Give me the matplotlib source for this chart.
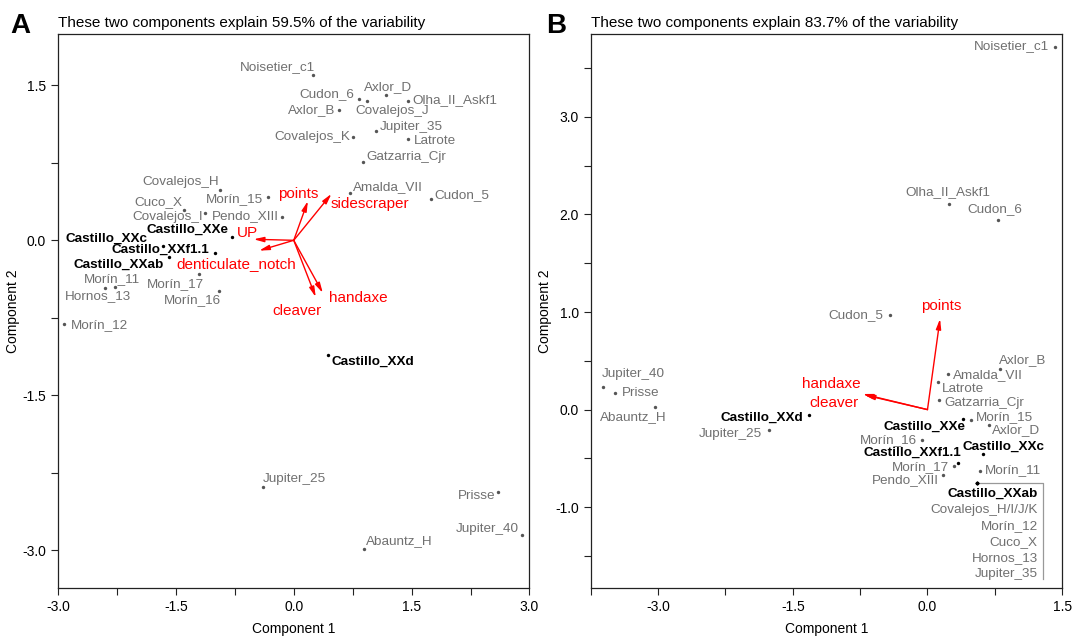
import numpy as np
import matplotlib.pyplot as plt
from matplotlib.ticker import MultipleLocator, FormatStrFormatter
from matplotlib.transforms import IdentityTransform

plt.rcParams["font.family"] = ["Liberation Sans", "DejaVu Sans"]

# ---- panel A: PCA scores and loadings ----
pct_a = 59.5
sites_a = ["Noisetier_c1", "Cudon_6", "Covalejos_J", "Axlor_D", "Olha_II_Askf1",
           "Axlor_B", "Jupiter_35", "Covalejos_K", "Latrote", "Gatzarria_Cjr",
           "Amalda_VII", "Cudon_5", "Covalejos_H", "Morín_15", "Cuco_X",
           "Covalejos_I", "Pendo_XIII", "Castillo_XXe", "Castillo_XXc",
           "Castillo_XXf1.1", "Castillo_XXab", "Morín_11", "Hornos_13",
           "Morín_17", "Morín_16", "Morín_12", "Castillo_XXd", "Jupiter_25",
           "Prisse", "Jupiter_40", "Abauntz_H"]
pc1_a = [0.25, 0.83, 0.93, 1.17, 1.45, 0.58, 1.05, 0.76, 1.46, 0.88,
         0.71, 1.75, -0.94, -0.33, -1.40, -1.13, -0.15, -0.78, -1.66,
         -1.00, -1.59, -2.27, -2.40, -1.21, -0.95, -2.92, 0.43, -0.39,
         2.60, 2.90, 0.89]
pc2_a = [1.60, 1.37, 1.35, 1.41, 1.35, 1.26, 1.06, 1.00, 0.98, 0.76,
         0.46, 0.40, 0.49, 0.42, 0.29, 0.26, 0.23, 0.03, -0.06,
         -0.12, -0.16, -0.45, -0.46, -0.33, -0.49, -0.81, -1.11, -2.39,
         -2.44, -2.85, -2.99]
vars_a = ["points", "sidescraper", "UP", "denticulate_notch", "cleaver", "handaxe"]
load1_a = [0.18, 0.48, -0.51, -0.44, 0.28, 0.37]
load2_a = [0.38, 0.45, 0.01, -0.10, -0.55, -0.51]

# ---- panel B ----
pct_b = 83.7
sites_b = ["Noisetier_c1", "Olha_II_Askf1", "Cudon_6", "Cudon_5", "Axlor_B",
           "Amalda_VII", "Latrote", "Gatzarria_Cjr", "Morín_15", "Castillo_XXe",
           "Axlor_D", "Morín_16", "Castillo_XXc", "Castillo_XXf1.1", "Morín_17",
           "Morín_11", "Pendo_XIII", "Castillo_XXd", "Jupiter_25", "Jupiter_40",
           "Prisse", "Abauntz_H"]
pc1_b = [1.42, 0.24, 0.78, -0.42, 0.81, 0.23, 0.12, 0.13, 0.48, 0.39,
         0.68, -0.06, 0.62, 0.34, 0.29, 0.58, 0.17, -1.32, -1.77, -3.61,
         -3.48, -3.03]
pc2_b = [3.72, 2.11, 1.94, 0.97, 0.42, 0.36, 0.28, 0.10, -0.11, -0.10,
         -0.16, -0.31, -0.45, -0.55, -0.58, -0.63, -0.67, -0.06, -0.21, 0.23,
         0.17, 0.03]
# sites sharing one position in panel B
group_b = ["Castillo_XXab", "Covalejos_H/I/J/K", "Morín_12", "Cuco_X",
           "Hornos_13", "Jupiter_35"]
group_pc1_b = 0.55
group_pc2_b = -0.75
vars_b = ["points", "handaxe", "cleaver"]
load1_b = [0.14, -0.72, -0.70]
load2_b = [0.93, 0.16, 0.15]

# label placement: (ha, dx, dy) in pixels from the point
place_a = {
    "Noisetier_c1": ("right", 2, 8), "Cudon_6": ("right", -5, 5),
    "Covalejos_J": ("left", -11, -10), "Axlor_D": ("center", 2, 8),
    "Olha_II_Askf1": ("left", 5, 1), "Axlor_B": ("right", -4, 0),
    "Jupiter_35": ("left", 4, 4), "Covalejos_K": ("right", -3, 0),
    "Latrote": ("left", 5, -2), "Gatzarria_Cjr": ("left", 3, 5),
    "Amalda_VII": ("left", 3, 6), "Cudon_5": ("left", 3, 4),
    "Covalejos_H": ("right", -1, 8), "Morín_15": ("right", -5, -2),
    "Cuco_X": ("right", -1, 8), "Covalejos_I": ("right", -2, -4),
    "Pendo_XIII": ("right", -3, 0), "Castillo_XXe": ("right", -4, 7),
    "Castillo_XXc": ("right", -16, 8), "Castillo_XXf1.1": ("right", -6, 3),
    "Castillo_XXab": ("right", -5, -8), "Morín_11": ("center", -3, 8),
    "Hornos_13": ("center", -7, -8), "Morín_17": ("right", 5, -10),
    "Morín_16": ("right", 2, -9), "Morín_12": ("left", 7, -1),
    "Castillo_XXd": ("left", 4, -7), "Jupiter_25": ("left", 0, 8),
    "Prisse": ("right", -3, -4), "Jupiter_40": ("right", -3, 6),
    "Abauntz_H": ("left", 2, 8),
}
place_b = {
    "Noisetier_c1": ("right", -6, 0), "Olha_II_Askf1": ("center", -1, 12),
    "Cudon_6": ("center", -3, 11), "Cudon_5": ("right", -6, 0),
    "Axlor_B": ("left", -1, 9), "Amalda_VII": ("left", 5, -1),
    "Latrote": ("left", 4, -7), "Gatzarria_Cjr": ("left", 5, -3),
    "Morín_15": ("left", 5, 3), "Castillo_XXe": ("right", 3, -7),
    "Axlor_D": ("left", 3, -5), "Morín_16": ("right", -5, 0),
    "Castillo_XXc": ("left", -21, 7), "Castillo_XXf1.1": ("right", 3, 10),
    "Morín_17": ("right", -5, -1), "Morín_11": ("left", 5, 1),
    "Pendo_XIII": ("right", -4, -5), "Castillo_XXd": ("right", -6, -2),
    "Jupiter_25": ("right", -6, -4), "Jupiter_40": ("left", -1, 13),
    "Prisse": ("left", 7, 0), "Abauntz_H": ("center", -22, -10),
}
arrow_lab_a = {"points": (-10, 7), "sidescraper": (38, -10), "UP": (-6, 6),
               "denticulate_notch": (-23, -13), "cleaver": (-19, -14),
               "handaxe": (35, -5)}
arrow_lab_b = {"points": (1, 13), "handaxe": (-32, 10), "cleaver": (-31, -8)}

GREY = "#707070"
LAB_FS = 9.7


def style_axes(ax, xlim, ylim, xmaj, xmin, ymaj, ymin):
    ax.set_xlim(*xlim)
    ax.set_ylim(*ylim)
    ax.xaxis.set_major_locator(MultipleLocator(xmaj))
    ax.xaxis.set_minor_locator(MultipleLocator(xmin))
    ax.yaxis.set_major_locator(MultipleLocator(ymaj))
    ax.yaxis.set_minor_locator(MultipleLocator(ymin))
    ax.xaxis.set_major_formatter(FormatStrFormatter("%.1f"))
    ax.yaxis.set_major_formatter(FormatStrFormatter("%.1f"))
    ax.tick_params(which="both", direction="out", length=5, width=0.8,
                   labelsize=10, color="#222222")
    for s in ax.spines.values():
        s.set_linewidth(0.9)
        s.set_color("#222222")
    ax.set_xlabel("Component 1", fontsize=10, labelpad=6)
    ax.set_ylabel("Component 2", fontsize=10, labelpad=2)


def draw_sites(ax, sites, pc1, pc2, place):
    for name, x, y in zip(sites, pc1, pc2):
        bold = name.startswith("Castillo")
        ax.scatter(x, y, s=6, color="black" if bold else "#555555",
                   linewidths=0, zorder=3)
        ha, dx, dy = place[name]
        ax.annotate(name, (x, y), xytext=(dx, dy), textcoords="offset pixels",
                    ha=ha, va="center", fontsize=LAB_FS,
                    color="black" if bold else GREY,
                    fontweight="bold" if bold else "normal")


def draw_loadings(ax, names, l1, l2, labpos):
    for name, x, y in zip(names, l1, l2):
        ax.annotate("", xy=(x, y), xytext=(0, 0),
                    arrowprops=dict(arrowstyle="-|>,head_length=0.6,head_width=0.15",
                                    color="red", lw=1.0, shrinkA=0, shrinkB=0,
                                    mutation_scale=10))
        dx, dy = labpos[name]
        ax.annotate(name, (x, y), xytext=(dx, dy), textcoords="offset pixels",
                    ha="center", va="center", fontsize=11, color="red")


fig = plt.figure(figsize=(10.74, 6.38), dpi=100)
ax_a = fig.add_axes([0.054, 0.078, 0.439, 0.869])
ax_b = fig.add_axes([0.550, 0.078, 0.439, 0.869])

style_axes(ax_a, (-3.0, 3.0), (-3.37, 2.0), 1.5, 0.75, 1.5, 0.75)
style_axes(ax_b, (-3.75, 1.5), (-1.83, 3.85), 1.5, 0.75, 1.0, 0.5)

draw_sites(ax_a, sites_a, pc1_a, pc2_a, place_a)
draw_loadings(ax_a, vars_a, load1_a, load2_a, arrow_lab_a)

draw_sites(ax_b, sites_b, pc1_b, pc2_b, place_b)
draw_loadings(ax_b, vars_b, load1_b, load2_b, arrow_lab_b)

# overlapping group in panel B: one dot, stacked labels, bracket
ax_b.scatter([group_pc1_b] * len(group_b), [group_pc2_b] * len(group_b),
             s=6, color="black", linewidths=0, zorder=3)
for i, name in enumerate(group_b):
    bold = name.startswith("Castillo")
    ax_b.annotate(name, (group_pc1_b, group_pc2_b), xytext=(61, -11 - 16 * i),
                  textcoords="offset pixels", ha="right", va="center",
                  fontsize=LAB_FS, color="black" if bold else GREY,
                  fontweight="bold" if bold else "normal")
gx, gy = ax_b.transData.transform((group_pc1_b, group_pc2_b))
ax_b.plot([gx, gx + 66, gx + 66], [gy, gy, gy - 96], color="#999999",
          lw=0.9, transform=IdentityTransform(), clip_on=False)

for ax, pct in [(ax_a, pct_a), (ax_b, pct_b)]:
    ax.set_title(f"These two components explain {pct}% of the variability",
                 loc="left", fontsize=11, pad=5)
fig.text(10 / 1074, 1 - 26 / 638, "A", fontsize=20, fontweight="bold",
         ha="left", va="center")
fig.text(546 / 1074, 1 - 26 / 638, "B", fontsize=20, fontweight="bold",
         ha="left", va="center")

fig.savefig("out.png", dpi=100)
